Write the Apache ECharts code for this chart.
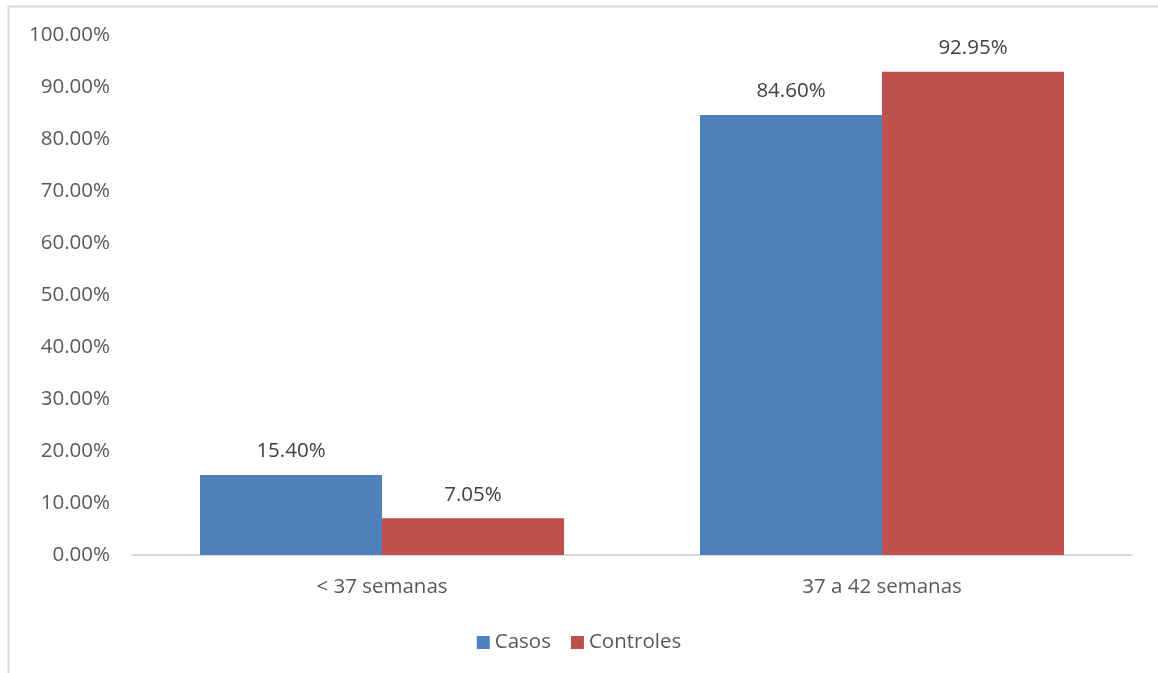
<!DOCTYPE html>
<html>
<head>
<meta charset="utf-8">
<script src="https://cdn.jsdelivr.net/npm/echarts@6/dist/echarts.min.js"></script>
<style>
  html, body { margin: 0; padding: 0; background: #fff; }
  #chart { width: 1158px; height: 673px; }
</style>
</head>
<body>
<div id="chart"></div>
<script>
// Gestational age at birth, share of cases vs controls
const categories = ['< 37 semanas', '37 a 42 semanas'];
const casos = [15.40, 84.60];
const controles = [7.05, 92.95];
const seriesNames = ['Casos', 'Controles'];
const yTicks = { min: 0, max: 100, interval: 10 };

const FONT = 'Open Sans';
const TEXT = '#595959';
const LABEL = '#404040';
const SIZE = 20.5;

const chart = echarts.init(document.getElementById('chart'), null, { renderer: 'canvas' });

const pct = v => v.toFixed(2) + '%';

chart.setOption({
  animation: false,
  backgroundColor: '#ffffff',
  textStyle: { fontFamily: FONT },
  graphic: [{
    type: 'rect',
    shape: { x: 8.5, y: 6.5, width: 1200, height: 700 },
    style: { fill: 'none', stroke: '#d9d9d9', lineWidth: 2 },
    silent: true
  }],
  grid: { left: 132, right: 26, top: 35, bottom: 118 },
  legend: {
    top: 627,
    left: 'center',
    itemWidth: 13,
    itemHeight: 13,
    itemGap: 20,
    icon: 'rect',
    textStyle: { color: TEXT, fontSize: SIZE, fontFamily: FONT },
    data: seriesNames
  },
  xAxis: {
    type: 'category',
    data: categories,
    axisLine: { lineStyle: { color: '#d9d9d9', width: 2 } },
    axisTick: { show: false },
    axisLabel: { color: TEXT, fontSize: SIZE, fontFamily: FONT, margin: 22 }
  },
  yAxis: {
    type: 'value',
    min: yTicks.min,
    max: yTicks.max,
    interval: yTicks.interval,
    splitLine: { show: false },
    axisLine: { show: false },
    axisTick: { show: false },
    axisLabel: { color: TEXT, fontSize: SIZE, fontFamily: FONT, margin: 22, formatter: v => pct(v) }
  },
  series: [
    {
      name: seriesNames[0],
      type: 'bar',
      data: casos,
      barWidth: '36.4%',
      barGap: '0%',
      itemStyle: { color: '#4f81bd' },
      label: { show: true, position: 'top', distance: 13, color: LABEL, fontSize: SIZE, fontFamily: FONT, formatter: p => pct(p.value) }
    },
    {
      name: seriesNames[1],
      type: 'bar',
      data: controles,
      barWidth: '36.4%',
      barGap: '0%',
      itemStyle: { color: '#c0504d' },
      label: { show: true, position: 'top', distance: 13, color: LABEL, fontSize: SIZE, fontFamily: FONT, formatter: p => pct(p.value) }
    }
  ]
});
</script>
</body>
</html>
